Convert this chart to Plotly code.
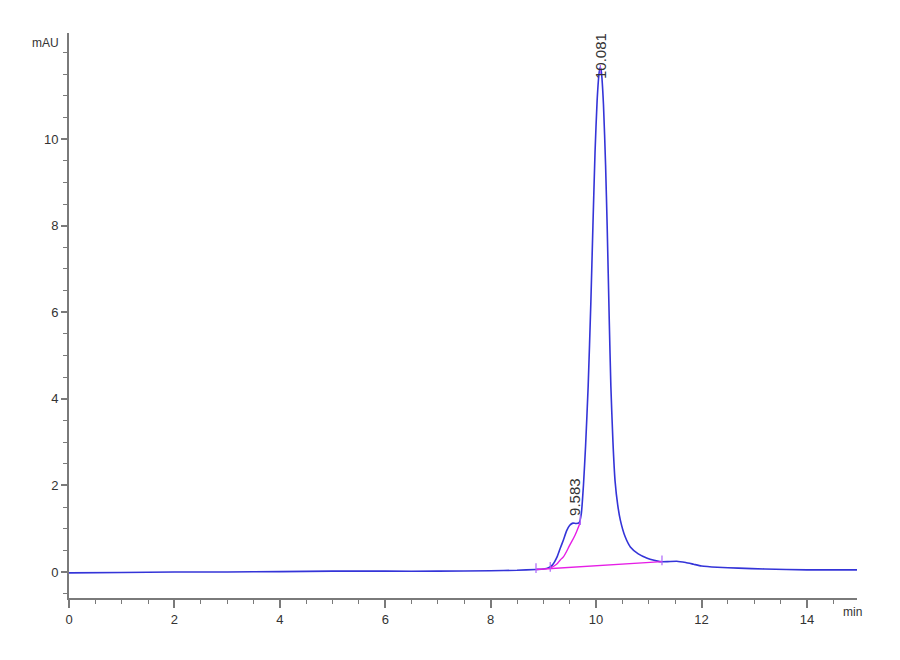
import plotly.graph_objects as go

# chromatogram trace (min, mAU)
time_min = [0.0, 1.0, 2.0, 3.0, 4.0, 5.0, 6.0, 7.0, 8.0, 8.5, 8.86, 9.0, 9.1,
            9.17, 9.26, 9.32, 9.38, 9.44, 9.5, 9.56, 9.62, 9.68, 9.72, 9.76,
            9.8, 9.85, 9.9, 9.94, 9.98, 10.02, 10.06, 10.081, 10.1, 10.14,
            10.18, 10.21, 10.25, 10.28, 10.32, 10.36, 10.41, 10.46, 10.55,
            10.65, 10.8, 10.97, 11.1, 11.21, 11.35, 11.53, 11.7, 11.85, 12.0,
            12.3, 12.7, 13.2, 14.0, 14.95]
signal_mau = [-0.02, -0.01, 0.0, 0.0, 0.01, 0.02, 0.02, 0.02, 0.03, 0.04, 0.06,
              0.07, 0.1, 0.16, 0.35, 0.55, 0.74, 0.95, 1.08, 1.13, 1.12, 1.14,
              1.35, 2.0, 2.9, 4.3, 6.2, 8.0, 9.7, 10.9, 11.55, 11.65, 11.55,
              10.8, 9.4, 8.0, 5.8, 4.3, 3.0, 2.1, 1.55, 1.2, 0.82, 0.58, 0.42,
              0.32, 0.27, 0.24, 0.24, 0.25, 0.22, 0.18, 0.14, 0.11, 0.09,
              0.07, 0.05, 0.05]

# integration baseline and skim curve
baseline_t = [8.86, 11.25]
baseline_v = [0.06, 0.24]
skim_t = [9.13, 9.25, 9.32, 9.38, 9.5, 9.6, 9.7]
skim_v = [0.09, 0.18, 0.28, 0.35, 0.62, 0.85, 1.15]

# integration event ticks
event_t = [8.86, 9.13, 9.7, 11.25, 10.081]
event_v = [0.09, 0.12, 1.2, 0.27, 11.6]

# peak labels
peak_t = [9.6, 10.081]
peak_label_y = [1.25, 11.35]
peak_labels = ["9.583", "10.081"]

# axis labels
y_ticks = [0, 2, 4, 6, 8, 10]
x_ticks = [0, 2, 4, 6, 8, 10, 12, 14]

font_family = "Liberation Sans, Arial, sans-serif"
axis_grey = "#7a7a7a"
text_color = "#333333"

fig = go.Figure()
fig.add_trace(go.Scatter(x=time_min, y=signal_mau, mode="lines",
                         line=dict(color="#3434d8", width=1.6, shape="spline", smoothing=0.5),
                         hoverinfo="x+y"))
fig.add_trace(go.Scatter(x=baseline_t, y=baseline_v, mode="lines",
                         line=dict(color="#e61ee6", width=1.4)))
fig.add_trace(go.Scatter(x=skim_t, y=skim_v, mode="lines",
                         line=dict(color="#e61ee6", width=1.4, shape="spline")))
fig.add_trace(go.Scatter(x=event_t, y=event_v, mode="markers",
                         marker=dict(symbol="line-ns-open", size=7,
                                     line=dict(color="#444444", width=1.2))))

for t, y, lab in zip(peak_t, peak_label_y, peak_labels):
    fig.add_annotation(x=t, y=y, text=lab, textangle=-90, showarrow=False,
                       xanchor="center", yanchor="bottom",
                       font=dict(size=15, color=text_color, family=font_family))

fig.add_annotation(xref="paper", yref="paper", x=0, y=0.982, text="mAU",
                   showarrow=False, xanchor="right", xshift=-8, yanchor="middle",
                   font=dict(size=12, color=text_color, family=font_family))
fig.add_annotation(xref="paper", yref="paper", x=0.98, y=-0.025, text="min",
                   showarrow=False, xanchor="left", yanchor="middle",
                   font=dict(size=12, color=text_color, family=font_family))

# page body adds an 8px offset, so margins are shifted to compensate
fig.update_layout(
    width=900, height=660,
    margin=dict(l=61, r=51, t=25, b=70),
    paper_bgcolor="white", plot_bgcolor="white",
    showlegend=False,
    font=dict(family=font_family, size=13, color=text_color),
    xaxis=dict(range=[0, 14.95], tickmode="array", tickvals=x_ticks,
               showgrid=False, zeroline=False, automargin=False,
               showline=True, linecolor=axis_grey, linewidth=2,
               ticks="outside", ticklen=8, tickcolor=axis_grey, tickwidth=1.5,
               minor=dict(dtick=0.5, tick0=0, ticks="outside", ticklen=4,
                          tickcolor=axis_grey, tickwidth=1.2, showgrid=False)),
    yaxis=dict(range=[-0.6, 12.45], tickmode="array", tickvals=y_ticks,
               showgrid=False, zeroline=False, automargin=False,
               showline=True, linecolor=axis_grey, linewidth=2,
               ticks="outside", ticklen=6, tickcolor=axis_grey, tickwidth=1.5,
               minor=dict(dtick=0.5, tick0=0, ticks="outside", ticklen=4,
                          tickcolor=axis_grey, tickwidth=1.2, showgrid=False)),
)

fig.write_html("out.html")
